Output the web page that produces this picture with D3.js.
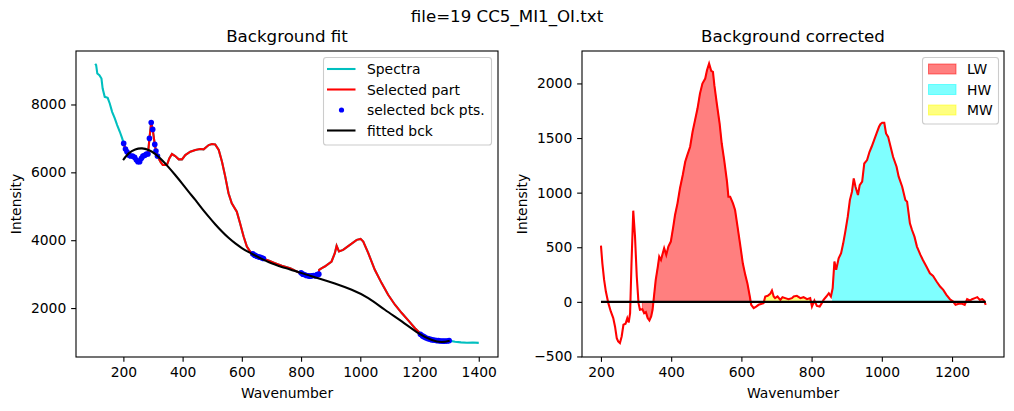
<!DOCTYPE html>
<html>

<head>
  <title>file=19 CC5_MI1_OI.txt</title>
  <meta charset="utf-8">

  <style>
    body {
      padding: 0;
      margin: 0;
      background: white;
    }
    svg {
      display: block;
      font-family: "DejaVu Sans", sans-serif;
    }
    .frame {
      fill: none;
      stroke: #000;
      stroke-width: 1.1;
    }
    .axis line {
      stroke: #000;
      stroke-width: 1.1;
    }
    .axis text {
      fill: #000;
    }
    .label {
      font-size: 13.89px;
      fill: #000;
      text-anchor: middle;
    }
    .title {
      font-size: 16.67px;
      fill: #000;
      text-anchor: middle;
    }
    .legend-box {
      fill: white;
      fill-opacity: 0.8;
      stroke: #cccccc;
      stroke-width: 1.1;
    }
    .legend text {
      font-size: 13.89px;
      fill: #000;
    }
  </style>
</head>

<body>
  <div id="chart"></div>

  <!-- ####### LOAD D3 ####### -->
  <script src="https://d3js.org/d3.v7.min.js"></script>

  <script>

  // ####### DATA: RAW SPECTRUM [wavenumber, intensity] #######
  var spectra = [
    [105, 9200], [108, 9157], [112, 8912], [119, 8863], [126, 8765], [130, 8470], [137, 8225],
    [147, 8196], [154, 8029], [162, 7784], [171, 7588], [179, 7392], [188, 7196], [196, 7000],
    [201, 6853], [207, 6686], [212, 6608], [218, 6510], [224, 6480], [231, 6480], [238, 6441],
    [244, 6363], [249, 6314], [255, 6314], [261, 6412], [266, 6480], [272, 6500], [278, 6539],
    [283, 6539], [288, 7000], [294, 7471], [299, 7265], [306, 6824], [310, 6627], [315, 6480],
    [325, 6314], [333, 6216], [347, 6216], [355, 6412], [364, 6539], [375, 6480], [387, 6382],
    [398, 6382], [409, 6510], [426, 6608], [443, 6657], [459, 6686], [471, 6676], [488, 6804],
    [499, 6833], [510, 6824], [522, 6657], [533, 6314], [544, 5873], [555, 5382], [566, 5088],
    [583, 4843], [594, 4500], [606, 4108], [617, 3814], [628, 3667], [639, 3569], [650, 3520],
    [667, 3471], [690, 3402], [712, 3324], [735, 3245], [763, 3176], [780, 3100], [802, 3010],
    [820, 2970], [840, 2940], [858, 2931], [861, 3127], [870, 3180], [880, 3225], [903, 3373],
    [914, 3618], [920, 3833], [928, 3667], [942, 3716], [965, 3863], [988, 4010], [1001, 4039],
    [1010, 3961], [1027, 3618], [1049, 3127], [1072, 2735], [1094, 2392], [1117, 2098],
    [1140, 1853], [1162, 1637], [1184, 1412], [1201, 1265], [1215, 1170], [1229, 1118],
    [1245, 1070], [1263, 1049], [1280, 1035], [1300, 1040], [1320, 1010], [1340, 990],
    [1360, 980], [1380, 985], [1400, 975]
  ]

  // ####### DATA: SELECTED RANGE OF THE SPECTRUM #######
  var selectedRange = [200, 1300]

  // ####### DATA: SELECTED BACKGROUND POINTS #######
  var bckPoints = [
    [201, 6853], [207, 6686], [212, 6608], [218, 6510], [224, 6480], [231, 6480], [238, 6441],
    [244, 6363], [249, 6314], [255, 6314], [261, 6412], [266, 6480], [272, 6500], [278, 6539],
    [283, 6539], [288, 7000], [294, 7471], [299, 7265], [306, 6824], [310, 6627], [315, 6480],
    [637, 3600], [643, 3560], [649, 3530], [655, 3510], [661, 3500], [667, 3480], [673, 3460],
    [800, 3040], [806, 3000], [812, 2980], [818, 2960], [824, 2950], [830, 2940], [836, 2950],
    [842, 2960], [848, 2950], [854, 2990], [860, 3000],
    [1203, 1230], [1210, 1180], [1216, 1150], [1222, 1120], [1228, 1100], [1234, 1090],
    [1240, 1070], [1246, 1060], [1252, 1050], [1258, 1040], [1264, 1040], [1270, 1030],
    [1276, 1030], [1282, 1025], [1288, 1030], [1294, 1030], [1300, 1040]
  ]

  // ####### DATA: FITTED BACKGROUND #######
  var fittedBck = [
    [199, 6363], [218, 6559], [240, 6676], [263, 6706], [285, 6657], [308, 6539], [330, 6363],
    [353, 6147], [375, 5922], [398, 5676], [420, 5431], [443, 5186], [465, 4941], [488, 4696],
    [510, 4471], [533, 4255], [555, 4070], [578, 3905], [600, 3770], [622, 3655], [645, 3549],
    [667, 3451], [690, 3360], [712, 3282], [735, 3210], [763, 3140], [802, 3030], [858, 2882],
    [914, 2725], [971, 2539], [1027, 2294], [1083, 1951], [1140, 1608], [1196, 1265],
    [1240, 1069], [1274, 1000], [1302, 1039]
  ]

  // ####### DATA: BACKGROUND CORRECTED SPECTRUM #######
  var corrected = [
    [200, 515], [204, 353], [209, 201], [214, 94], [221, -12], [228, -88], [235, -149],
    [240, -225], [245, -332], [249, -363], [254, -378], [259, -317], [264, -210], [270, -201],
    [275, -149], [279, -189], [283, -104], [287, 353], [292, 835], [297, 597], [302, 232],
    [307, -12], [311, -73], [318, -67], [323, -104], [328, -94], [333, -149], [338, -171],
    [343, -134], [347, -73], [351, 49], [356, 201], [362, 323], [366, 414], [371, 384],
    [376, 445], [380, 491], [386, 430], [392, 506], [399, 552], [406, 689], [411, 795],
    [418, 902], [425, 1039], [433, 1161], [440, 1283], [446, 1344], [454, 1420], [461, 1557],
    [468, 1664], [475, 1770], [482, 1907], [489, 1999], [497, 2045], [502, 2121], [508, 2182],
    [514, 2115], [519, 2105], [523, 1984], [530, 1816], [538, 1633], [544, 1450], [551, 1298],
    [559, 1100], [563, 963], [568, 963], [576, 902], [582, 841], [589, 689], [596, 536],
    [604, 353], [611, 247], [617, 171], [624, 49], [628, -27], [635, -58], [642, -43],
    [649, -27], [658, -18], [663, -12], [668, 49], [675, 55], [682, 73], [687, 104], [692, 49],
    [696, 34], [703, 49], [711, 18], [717, 43], [725, 34], [734, 24], [744, 34], [749, 49],
    [758, 55], [768, 34], [777, 43], [787, 24], [796, 34], [801, -43], [808, 12], [815, -37],
    [823, -43], [829, -12], [834, 18], [842, 49], [849, 79], [855, 49], [860, 125], [865, 369],
    [870, 293], [877, 399], [884, 445], [890, 536], [896, 643], [903, 780], [909, 932],
    [915, 1009], [920, 1130], [925, 1054], [932, 978], [937, 1069], [944, 1100], [950, 1267],
    [958, 1298], [965, 1374], [971, 1420], [978, 1481], [985, 1542], [992, 1603], [996, 1627],
    [1001, 1640], [1007, 1640], [1012, 1542], [1018, 1511], [1025, 1420], [1032, 1328],
    [1042, 1237], [1048, 1146], [1058, 1054], [1067, 932], [1072, 917], [1080, 719],
    [1086, 658], [1093, 597], [1100, 506], [1110, 430], [1117, 384], [1127, 323], [1137, 262],
    [1146, 238], [1156, 186], [1166, 140], [1175, 110], [1184, 64], [1194, 24], [1203, 3],
    [1210, -27], [1219, -18], [1229, -18], [1236, -27], [1243, 24], [1251, 12], [1257, 24],
    [1265, 34], [1272, 43], [1279, 18], [1286, 24], [1291, 12], [1296, -27]
  ]

  // ####### DATA: BANDS (NAME, RANGE, COLOUR) #######
  var bandNames = ["LW", "HW", "MW"]
  var bandRanges = [[313, 625], [858, 1205], [660, 800]]
  var bandColors = ["#ff0000", "#00ffff", "#ffff00"]

  // ####### DATA: AXIS LIMITS & TICKS #######
  var fitXDomain = [40, 1465],
      fitYDomain = [558, 9576],
      corXDomain = [146, 1348],
      corYDomain = [-505, 2297]
  var fitXTicks = [200, 400, 600, 800, 1000, 1200, 1400],
      fitYTicks = [2000, 4000, 6000, 8000],
      corXTicks = [200, 400, 600, 800, 1000, 1200],
      corYTicks = [-500, 0, 500, 1000, 1500, 2000]

  // ####### SVG #######
  var width = 1014,
      height = 411,
      plotTop = 51,
      plotBottom = 357

  var svg = d3.select("#chart").append("svg")
      .attr("width", width)
      .attr("height", height)

  // ####### SUPTITLE #######
  svg.append("text").attr("class", "title")
      .attr("x", 507).attr("y", 22)
      .text("file=19 CC5_MI1_OI.txt")

  // ####### drawAxes: FRAME, TICKS, LABELS, TITLE #######
  function drawAxes(x, y, xTicks, yTicks, title) {
    var x0 = x.range()[0], x1 = x.range()[1]
    var g = svg.append("g")

    g.append("g").attr("class", "axis")
        .attr("transform", "translate(0," + plotBottom + ")")
        .call(d3.axisBottom(x).tickValues(xTicks).tickFormat(d3.format("d"))
          .tickSizeOuter(0).tickSize(4.86).tickPadding(4.86))
        .attr("font-size", 13.89).attr("font-family", null)
        .select(".domain").remove()

    g.append("g").attr("class", "axis")
        .attr("transform", "translate(" + x0 + ",0)")
        .call(d3.axisLeft(y).tickValues(yTicks).tickFormat(d3.format("d"))
          .tickSizeOuter(0).tickSize(4.86).tickPadding(4.86))
        .attr("font-size", 13.89).attr("font-family", null)
        .select(".domain").remove()

    g.append("rect").attr("class", "frame")
        .attr("x", x0).attr("y", plotTop)
        .attr("width", x1 - x0).attr("height", plotBottom - plotTop)

    g.append("text").attr("class", "label")
        .attr("x", (x0 + x1) / 2).attr("y", 398)
        .text("Wavenumber")

    g.append("text").attr("class", "label")
        .attr("transform", "translate(" + (x0 - 55) + "," + ((plotTop + plotBottom) / 2) + ") rotate(-90)")
        .text("Intensity")

    g.append("text").attr("class", "title")
        .attr("x", (x0 + x1) / 2).attr("y", 42)
        .text(title)
  }

  // ####### LEFT PANEL: BACKGROUND FIT #######
  var xFit = d3.scaleLinear().domain(fitXDomain).range([76, 498])
  var yFit = d3.scaleLinear().domain(fitYDomain).range([plotBottom, plotTop])

  var lineFit = d3.line()
      .x(function (d) { return xFit(d[0]) })
      .y(function (d) { return yFit(d[1]) })

  var selected = spectra.filter(function (d) {
    return d[0] >= selectedRange[0] && d[0] <= selectedRange[1]
  })

  svg.append("path").datum(spectra)
      .attr("d", lineFit).attr("fill", "none")
      .attr("stroke", "#00bfbf").attr("stroke-width", 2.08)

  svg.append("path").datum(selected)
      .attr("d", lineFit).attr("fill", "none")
      .attr("stroke", "#ff0000").attr("stroke-width", 2.08)

  svg.append("g").selectAll("circle")
      .data(bckPoints).enter().append("circle")
      .attr("cx", function (d) { return xFit(d[0]) })
      .attr("cy", function (d) { return yFit(d[1]) })
      .attr("r", 2.8)
      .attr("fill", "#0000ff")

  // ####### SMOOTH POLYNOMIAL-LIKE CURVE THROUGH THE READ FIT POINTS #######
  svg.append("path").datum(fittedBck)
      .attr("d", lineFit.curve(d3.curveNatural)).attr("fill", "none")
      .attr("stroke", "#000").attr("stroke-width", 2.08)

  drawAxes(xFit, yFit, fitXTicks, fitYTicks, "Background fit")

  // ####### RIGHT PANEL: BACKGROUND CORRECTED #######
  var xCor = d3.scaleLinear().domain(corXDomain).range([582, 1004])
  var yCor = d3.scaleLinear().domain(corYDomain).range([plotBottom, plotTop])

  var area = d3.area()
      .x(function (d) { return xCor(d[0]) })
      .y0(yCor(0))
      .y1(function (d) { return yCor(d[1]) })

  bandNames.forEach(function (name, i) {
    var part = corrected.filter(function (d) {
      return d[0] >= bandRanges[i][0] && d[0] <= bandRanges[i][1]
    })
    svg.append("path").datum(part)
        .attr("d", area)
        .attr("fill", bandColors[i]).attr("fill-opacity", 0.5)
        .attr("stroke", bandColors[i]).attr("stroke-opacity", 0.5)
  })

  svg.append("path").datum(corrected)
      .attr("d", d3.line()
        .x(function (d) { return xCor(d[0]) })
        .y(function (d) { return yCor(d[1]) }))
      .attr("fill", "none")
      .attr("stroke", "#ff0000").attr("stroke-width", 2.08)

  var xr = d3.extent(corrected, function (d) { return d[0] })
  svg.append("line")
      .attr("x1", xCor(xr[0])).attr("x2", xCor(xr[1]))
      .attr("y1", yCor(0)).attr("y2", yCor(0))
      .attr("stroke", "#000").attr("stroke-width", 2.08)

  drawAxes(xCor, yCor, corXTicks, corYTicks, "Background corrected")

  // ####### LEGEND: LEFT PANEL #######
  var legFit = svg.append("g").attr("class", "legend")
  legFit.append("rect").attr("class", "legend-box")
      .attr("x", 323.5).attr("y", 57.5).attr("width", 168).attr("height", 87.5)
      .attr("rx", 2.8)

  var fitItems = ["Spectra", "Selected part", "selected bck pts.", "fitted bck"],
      fitColors = ["#00bfbf", "#ff0000", "#0000ff", "#000"]

  fitItems.forEach(function (label, i) {
    var cy = 69 + i * 20.5
    if (i === 2) {
      legFit.append("circle").attr("cx", 341.5).attr("cy", cy).attr("r", 2.6)
          .attr("fill", fitColors[i])
    } else {
      legFit.append("line").attr("x1", 327).attr("x2", 355.5)
          .attr("y1", cy).attr("y2", cy)
          .attr("stroke", fitColors[i]).attr("stroke-width", 2.08)
    }
    legFit.append("text").attr("x", 367).attr("y", cy + 5).text(label)
  })

  // ####### LEGEND: RIGHT PANEL #######
  var legCor = svg.append("g").attr("class", "legend")
  legCor.append("rect").attr("class", "legend-box")
      .attr("x", 922.5).attr("y", 57.5).attr("width", 76).attr("height", 66.5)
      .attr("rx", 2.8)

  bandNames.forEach(function (name, i) {
    var cy = 69 + i * 20.5
    legCor.append("rect")
        .attr("x", 928.5).attr("y", cy - 5).attr("width", 27.5).attr("height", 10)
        .attr("fill", bandColors[i]).attr("fill-opacity", 0.5)
        .attr("stroke", bandColors[i]).attr("stroke-opacity", 0.5)
    legCor.append("text").attr("x", 967).attr("y", cy + 5).text(name)
  })

  </script>
</body>

</html>
